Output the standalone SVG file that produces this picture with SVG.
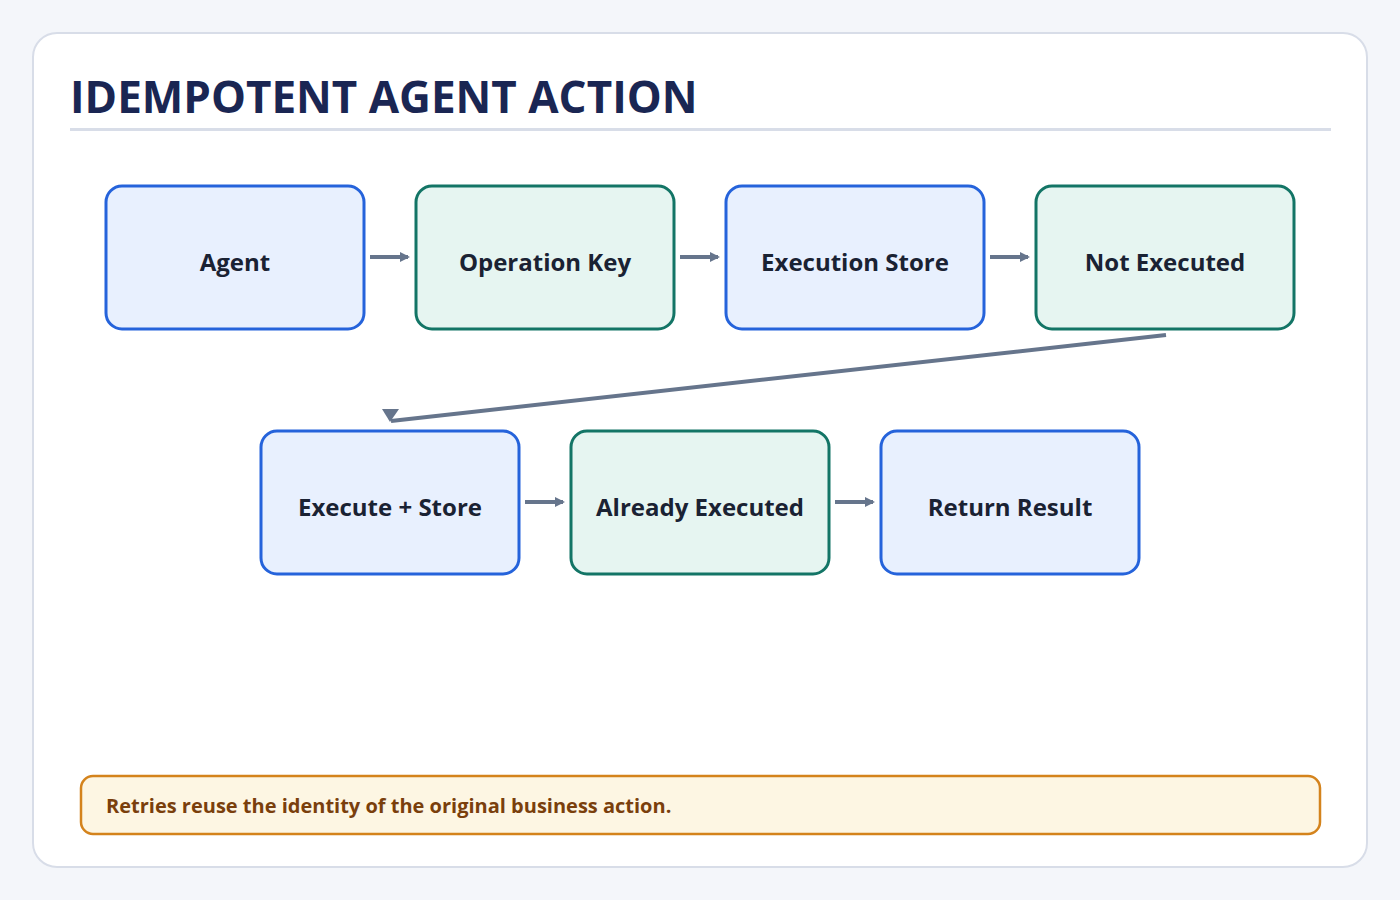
<svg xmlns="http://www.w3.org/2000/svg" width="1400" height="900" viewBox="0 0 1400 900">
<style>
.b{fill:#e8f0fe;stroke:#2563db;stroke-width:3}
.g{fill:#e6f5f1;stroke:#137566;stroke-width:3}
.t{font-family:"Open Sans","Noto Sans",sans-serif;font-weight:700;font-size:24px;fill:#1a2233;text-anchor:middle;dominant-baseline:central}
.c{stroke:#66758c;stroke-width:4;fill:none}
</style>
<defs><marker id="a" markerWidth="10" markerHeight="10" refX="8" refY="5" orient="auto" markerUnits="userSpaceOnUse"><path d="M0,0 L10,5 L0,10 Z" fill="#66758c"/></marker></defs>
<rect width="1400" height="900" fill="#f4f6fa"/>
<rect x="33" y="33" width="1334" height="834" rx="24" fill="#fff" stroke="#d8dde8" stroke-width="2"/>
<text x="70" y="113" font-family="'Open Sans','Noto Sans',sans-serif" font-weight="700" font-size="44" fill="#1a2653">IDEMPOTENT AGENT ACTION</text>
<rect x="70" y="128" width="1261" height="3" fill="#d8dde8"/>
<g id="n1"><rect class="b" x="106" y="186" width="258" height="143" rx="16"/><text class="t" x="235" y="261">Agent</text></g>
<g id="n2"><rect class="g" x="416" y="186" width="258" height="143" rx="16"/><text class="t" x="545" y="261">Operation Key</text></g>
<g id="n3"><rect class="b" x="726" y="186" width="258" height="143" rx="16"/><text class="t" x="855" y="261">Execution Store</text></g>
<g id="n4"><rect class="g" x="1036" y="186" width="258" height="143" rx="16"/><text class="t" x="1165" y="261">Not Executed</text></g>
<g id="n5"><rect class="b" x="261" y="431" width="258" height="143" rx="16"/><text class="t" x="390" y="506">Execute + Store</text></g>
<g id="n6"><rect class="g" x="571" y="431" width="258" height="143" rx="16"/><text class="t" x="700" y="506">Already Executed</text></g>
<g id="n7"><rect class="b" x="881" y="431" width="258" height="143" rx="16"/><text class="t" x="1010" y="506">Return Result</text></g>
<g id="connectors">
<line class="c" x1="370" y1="257" x2="408" y2="257" marker-end="url(#a)"/>
<line class="c" x1="680" y1="257" x2="718" y2="257" marker-end="url(#a)"/>
<line class="c" x1="990" y1="257" x2="1028" y2="257" marker-end="url(#a)"/>
<line class="c" x1="525" y1="502" x2="563" y2="502" marker-end="url(#a)"/>
<line class="c" x1="835" y1="502" x2="873" y2="502" marker-end="url(#a)"/>
<line class="c" x1="1166" y1="335" x2="391" y2="421"/>
<polygon points="382,409 399,409 390,422" fill="#66758c"/>
</g>
<g id="note"><rect x="81" y="776" width="1239" height="58" rx="12" fill="#fdf6e3" stroke="#d4831c" stroke-width="2.5"/>
<text x="106" y="805" font-family="'Open Sans','Noto Sans',sans-serif" font-weight="700" font-size="20" fill="#7a3f0c" dominant-baseline="central">Retries reuse the identity of the original business action.</text></g>
</svg>
